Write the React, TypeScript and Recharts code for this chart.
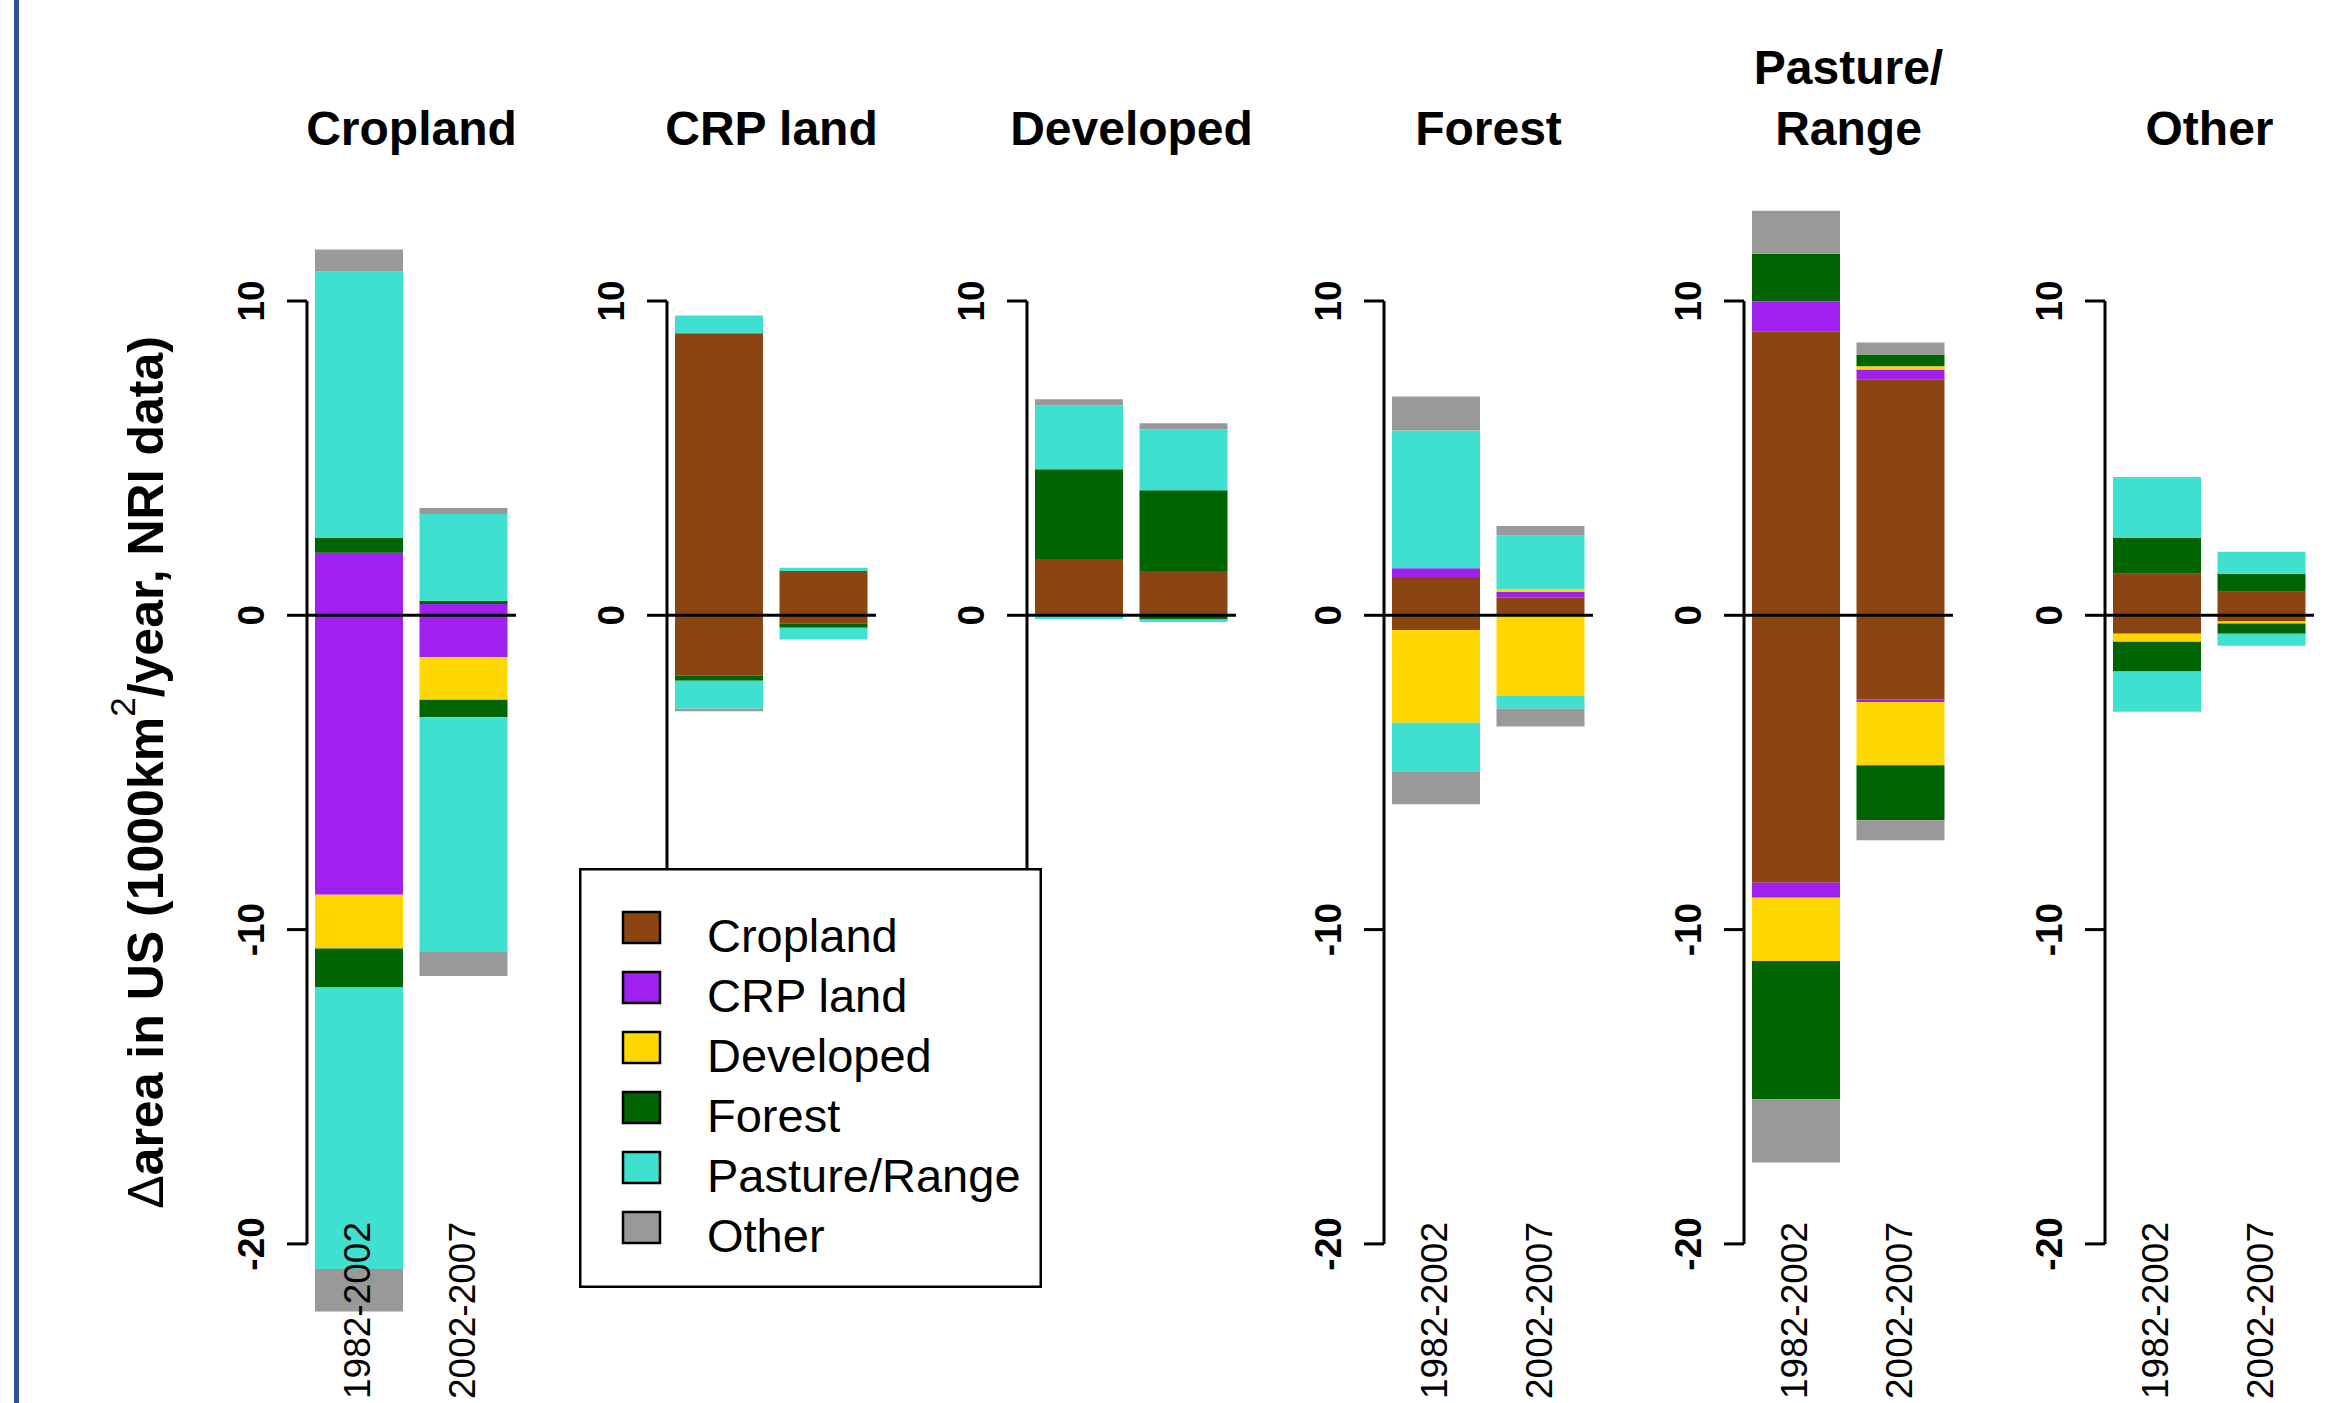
import React from 'react';
import { BarChart, Bar, XAxis, YAxis, ReferenceLine, Legend } from 'recharts';

const FONT = '"Liberation Sans", Arial, Helvetica, sans-serif';

const classes = ['Cropland', 'CRP land', 'Developed', 'Forest', 'Pasture/Range', 'Other'];
const classColors = ['#8B4513', '#A020F0', '#FFD700', '#006400', '#40E0D0', '#999999'];
const periods = ['1982-2002', '2002-2007'];
const yTicks = [-20, -10, 0, 10];

// per panel: [period][source class], gains above zero, losses below
const croplandGain = [[0, 1.99, 0, 0.47, 8.48, 0.7], [0, 0.36, 0, 0.1, 2.76, 0.19]];
const croplandLoss = [[0, -8.89, -1.71, -1.24, -8.96, -1.35], [0, -1.33, -1.36, -0.55, -7.47, -0.77]];
const crpGain = [[8.97, 0, 0, 0, 0.57, 0], [1.41, 0, 0, 0, 0.1, 0]];
const crpLoss = [[-1.92, 0, 0, -0.16, -0.89, -0.08], [-0.27, 0, 0, -0.13, -0.37, 0]];
const developedGain = [[1.79, 0, 0, 2.86, 2.03, 0.19], [1.41, 0, 0, 2.57, 1.94, 0.19]];
const developedLoss = [[0, 0, 0, 0, -0.12, 0], [0, 0, 0, -0.13, -0.08, 0]];
const forestGain = [[1.22, 0.28, 0, 0, 4.38, 1.08], [0.56, 0.18, 0.1, 0, 1.71, 0.29]];
const forestLoss = [[-0.47, 0, -2.95, 0, -1.54, -1.05], [0, 0, -2.55, 0, -0.42, -0.57]];
const pastureGain = [[9.04, 0.94, 0, 1.52, 0, 1.37], [7.51, 0.31, 0.1, 0.38, 0, 0.38]];
const pastureLoss = [[-8.51, -0.48, -2.01, -4.4, 0, -2.01], [-2.68, -0.08, -2.01, -1.75, 0, -0.64]];
const otherGain = [[1.32, 0, 0, 1.14, 1.94, 0], [0.75, 0, 0, 0.57, 0.7, 0]];
const otherLoss = [[-0.59, 0, -0.25, -0.95, -1.28, 0], [-0.2, 0, -0.06, -0.33, -0.38, 0]];

const panelTitles = [['Cropland'], ['CRP land'], ['Developed'], ['Forest'], ['Pasture/', 'Range'], ['Other']];
const panelGains = [croplandGain, crpGain, developedGain, forestGain, pastureGain, otherGain];
const panelLosses = [croplandLoss, crpLoss, developedLoss, forestLoss, pastureLoss, otherLoss];
const panelShowsPeriods = [true, false, false, true, true, true];

// layout (page pixels)
const PAGE_W = 2341;
const PAGE_H = 1403;
const PLOT_TOP = 206.7;
const PLOT_BOTTOM = 1338.2;
const PLOT_W = 209;
const RIGHT = 20;
const X_AXIS_H = 2;
const plotLefts = [307, 667, 1027, 1384, 1744, 2105];
const LABEL_TOP = 1222;
const Y_LABEL_X = 163;
const Y_W0 = 240;

const buildRows = (gain: number[][], loss: number[][]) =>
  periods.map((p, pi) => {
    const row: Record<string, any> = { period: p };
    classes.forEach((_, k) => {
      row['g' + k] = gain[pi][k];
      row['l' + k] = loss[pi][k];
    });
    return row;
  });

const ValueTick = (props: any) => {
  const { x, y, payload } = props;
  return (
    <text x={x} y={y} transform={`rotate(-90, ${x}, ${y})`} textAnchor="middle"
      fontSize={37} fontWeight="bold" fill="#000" fontFamily={FONT}>
      {String(payload.value)}
    </text>
  );
};

const PeriodTick = (props: any) => {
  const { x, y, payload } = props;
  const tx = x + 11;
  const ty = y + (LABEL_TOP - PLOT_BOTTOM);
  return (
    <text x={tx} y={ty} transform={`rotate(-90, ${tx}, ${ty})`} textAnchor="end"
      fontSize={37} fill="#000" fontFamily={FONT}>
      {payload.value}
    </text>
  );
};

const renderYLabel = (props: any) => {
  const vb = props.viewBox || {};
  const bx = (vb.x ?? 0) + (Y_LABEL_X - (plotLefts[0] - Y_W0));
  const cy = (vb.y ?? PLOT_TOP) + (vb.height ?? PLOT_BOTTOM - PLOT_TOP) / 2;
  return (
    <text x={bx} y={cy} transform={`rotate(-90, ${bx}, ${cy})`} textAnchor="middle"
      fontSize={50} fontWeight="bold" fill="#000" fontFamily={FONT}>
      <tspan fontWeight="normal">Δ</tspan>
      <tspan>area in US (1000km</tspan>
      <tspan fontSize={35} fontWeight="normal" dy={-28}>2</tspan>
      <tspan dy={28}>/year, NRI data)</tspan>
    </text>
  );
};

const LegendBox = () => (
  <svg width={463} height={420} style={{ display: 'block' }}>
    <rect x={1.25} y={1.25} width={460.5} height={417.5} fill="#fff" stroke="#000" strokeWidth={2.5} />
    {classes.map((c, k) => (
      <g key={c}>
        <rect x={44} y={44 + 60 * k} width={37} height={31} fill={classColors[k]} stroke="#000" strokeWidth={2.5} />
        <text x={128} y={84 + 60 * k} fontSize={47} fill="#000" fontFamily={FONT}>{c}</text>
      </g>
    ))}
  </svg>
);

const Panel: React.FC<{ index: number }> = ({ index }) => {
  const yW = index === 0 ? Y_W0 : 100;
  const width = yW + PLOT_W + RIGHT;
  const rows = buildRows(panelGains[index], panelLosses[index]);
  return (
    <div style={{ position: 'absolute', left: plotLefts[index] - yW, top: 0 }}>
      <BarChart
        width={width}
        height={PAGE_H}
        data={rows}
        stackOffset="sign"
        barSize={88}
        margin={{ top: PLOT_TOP, bottom: PAGE_H - PLOT_BOTTOM - X_AXIS_H, left: 0, right: RIGHT }}
      >
        <XAxis dataKey="period" type="category" height={X_AXIS_H} axisLine={false} tickLine={false}
          tickSize={0} tickMargin={0} interval={0}
          tick={panelShowsPeriods[index] ? <PeriodTick /> : false} />
        <XAxis xAxisId="edge" type="number" domain={[0, 1]} allowDataOverflow hide />
        <YAxis
          type="number"
          domain={[-23, 13]}
          ticks={yTicks}
          interval={0}
          width={yW}
          axisLine={false}
          stroke="#000"
          tickLine={{ stroke: '#000', strokeWidth: 3 }}
          tickSize={20}
          tickMargin={23}
          tick={<ValueTick />}
          label={index === 0 ? renderYLabel : undefined}
        />
        {classes.map((c, k) => (
          <Bar key={'g' + k} dataKey={'g' + k} name={c} stackId="s" fill={classColors[k]}
            stroke="none" isAnimationActive={false} />
        ))}
        {classes.map((c, k) => (
          <Bar key={'l' + k} dataKey={'l' + k} name={c} stackId="s" fill={classColors[k]}
            stroke="none" legendType="none" isAnimationActive={false} />
        ))}
        <ReferenceLine y={0} stroke="#000" strokeWidth={3} />
        <ReferenceLine xAxisId="edge" segment={[{ x: 0, y: -20 }, { x: 0, y: 10 }]} stroke="#000" strokeWidth={3} />
        {index === 1 ? (
          <Legend
            layout="vertical"
            align="center"
            verticalAlign="middle"
            wrapperStyle={{ left: 579 - (plotLefts[1] - yW), top: 868, width: 463, height: 420, zIndex: 10 }}
            content={() => <LegendBox />}
          />
        ) : null}
      </BarChart>
    </div>
  );
};

export default function App() {
  return (
    <div style={{ position: 'relative', width: PAGE_W, height: PAGE_H, overflow: 'hidden', background: '#fff', fontFamily: FONT }}>
      <style>{'body{margin:0;}'}</style>
      <div style={{ position: 'absolute', left: 14, top: 0, width: 5, height: PAGE_H, background: '#2E5592' }} />
      {panelTitles.map((_, i) => <Panel key={i} index={i} />)}
      <svg width={PAGE_W} height={200} style={{ position: 'absolute', left: 0, top: 0, pointerEvents: 'none' }}>
        {panelTitles.map((lines, i) =>
          lines.map((t, j) => (
            <text key={i + '-' + j} x={plotLefts[i] + PLOT_W / 2} y={145 - (lines.length - 1 - j) * 61}
              textAnchor="middle" fontSize={48} fontWeight="bold" fill="#000" fontFamily={FONT}>
              {t}
            </text>
          ))
        )}
      </svg>
    </div>
  );
}
